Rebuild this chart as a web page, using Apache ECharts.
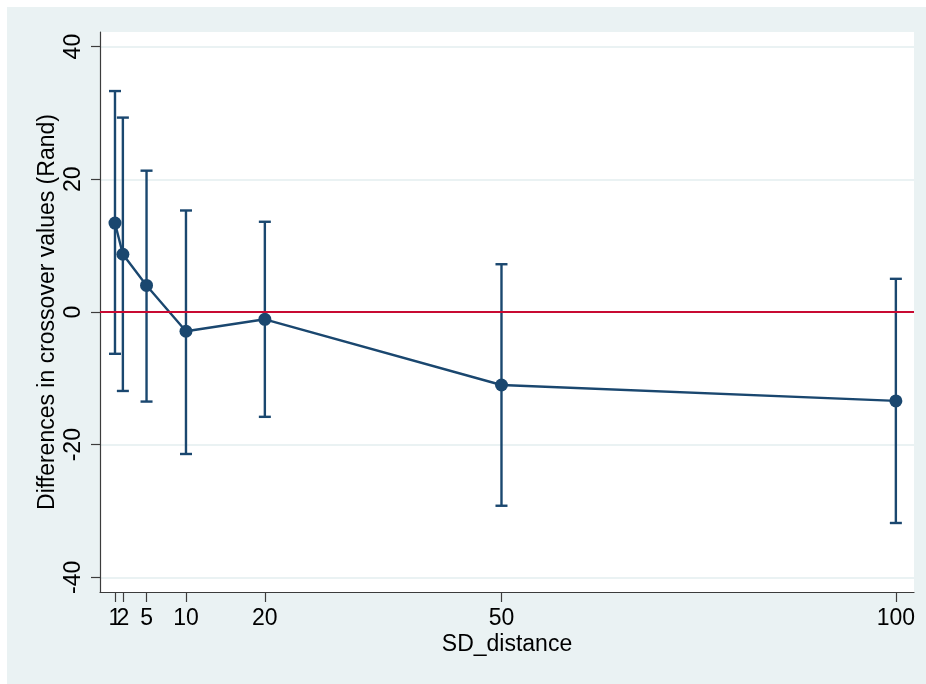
<!DOCTYPE html>
<html>
<head>
<meta charset="utf-8">
<script src="https://cdn.jsdelivr.net/npm/echarts@6/dist/echarts.min.js"></script>
<style>
  html, body { margin: 0; padding: 0; background: #ffffff; }
  #panel { position: absolute; left: 7px; top: 7px; width: 919px; height: 677px; background: #eaf2f3; }
  #chart { position: absolute; left: 0; top: 0; width: 926px; height: 684px; }
</style>
</head>
<body>
<div id="panel"></div>
<div id="chart"></div>
<script>
// SD distance levels and estimated differences with 95% confidence limits
const sdDistance = [1, 2, 5, 10, 20, 50, 100];
const meanDiff   = [13.4, 8.7, 4.0, -2.9, -1.1, -11.0, -13.4];
const ciLower    = [-6.3, -11.9, -13.5, -21.4, -15.8, -29.2, -31.8];
const ciUpper    = [33.3, 29.3, 21.3, 15.3, 13.6, 7.2, 5.0];
const xTicks     = [1, 2, 5, 10, 20, 50, 100];
const yTicks     = [-40, -20, 0, 20, 40];
const refLine    = 0;

const navy = '#1a476f';
const red = '#c80a32';
const gridColor = '#eaf2f3';
const axisColor = '#3c3c3c';
const font = 'Liberation Sans, Arial, Helvetica, sans-serif';
const fs = 23;
const xMin = -0.9, xMax = 102.3;

// ECharts drops one of two labels that collide, so the crowded ticks
// are labelled on two stacked axes sharing the same scale.
const xTicksA = xTicks.filter((v, i) => i % 2 === 0);
const xTicksB = xTicks.filter((v, i) => i % 2 === 1);

const chart = echarts.init(document.getElementById('chart'), null, { renderer: 'canvas' });

const linePoints = sdDistance.map((x, i) => [x, meanDiff[i]]);
const barData = sdDistance.map((x, i) => [x, ciLower[i], ciUpper[i]]);

const labelStyle = { margin: 15, fontFamily: font, fontSize: fs, color: '#000', hideOverlap: false, showMinLabel: true, showMaxLabel: true };

chart.setOption({
  backgroundColor: 'transparent',
  animation: false,
  grid: {
    left: 100, right: 12, top: 32, bottom: 92,
    show: true, backgroundColor: '#ffffff', borderWidth: 0
  },
  xAxis: [
    {
      type: 'value',
      min: xMin, max: xMax,
      name: 'SD_distance',
      nameLocation: 'middle',
      nameGap: 41,
      nameMoveOverlap: false,
      nameTextStyle: { fontFamily: font, fontSize: fs, color: '#000' },
      axisLine: { show: true, onZero: false, lineStyle: { color: axisColor, width: 1.2 } },
      axisTick: { show: true, length: 10, customValues: xTicks, lineStyle: { color: axisColor, width: 1.2 } },
      axisLabel: Object.assign({ customValues: xTicksA }, labelStyle),
      splitLine: { show: false }
    },
    {
      type: 'value',
      position: 'bottom',
      min: xMin, max: xMax,
      axisLine: { show: false, onZero: false },
      axisTick: { show: false },
      axisLabel: Object.assign({ customValues: xTicksB }, labelStyle),
      splitLine: { show: false }
    }
  ],
  yAxis: {
    type: 'value',
    min: -42.2, max: 42.2,
    name: 'Differences in crossover values (Rand)',
    nameLocation: 'middle',
    nameRotate: 90,
    nameGap: 41,
    nameMoveOverlap: false,
    nameTextStyle: { fontFamily: font, fontSize: fs, color: '#000' },
    axisLine: { show: true, onZero: false, lineStyle: { color: axisColor, width: 1.2 } },
    axisTick: { show: true, length: 9, customValues: yTicks, lineStyle: { color: axisColor, width: 1.2 } },
    axisLabel: {
      customValues: yTicks, rotate: 90, margin: 15, fontFamily: font, fontSize: fs, color: '#000',
      showMinLabel: true, showMaxLabel: true
    },
    splitLine: { show: true, lineStyle: { color: gridColor, width: 2 } }
  },
  series: [
    {
      // reference line at zero, drawn beneath the estimates
      type: 'line',
      data: [],
      z: 1,
      silent: true,
      markLine: {
        symbol: 'none',
        silent: true,
        label: { show: false },
        lineStyle: { color: red, width: 2, type: 'solid' },
        data: [{ yAxis: refLine }]
      }
    },
    {
      // confidence intervals with end caps
      type: 'custom',
      z: 3,
      data: barData,
      renderItem: function (params, api) {
        const x = api.value(0);
        const lo = api.coord([x, api.value(1)]);
        const hi = api.coord([x, api.value(2)]);
        const half = 6;
        const style = { stroke: navy, lineWidth: 2.4, fill: null };
        return {
          type: 'group',
          children: [
            { type: 'line', shape: { x1: lo[0], y1: lo[1], x2: hi[0], y2: hi[1] }, style: style },
            { type: 'line', shape: { x1: lo[0] - half, y1: lo[1], x2: lo[0] + half, y2: lo[1] }, style: style },
            { type: 'line', shape: { x1: hi[0] - half, y1: hi[1], x2: hi[0] + half, y2: hi[1] }, style: style }
          ]
        };
      }
    },
    {
      type: 'line',
      z: 4,
      data: linePoints,
      symbol: 'circle',
      symbolSize: 13,
      showSymbol: true,
      lineStyle: { color: navy, width: 2.4 },
      itemStyle: { color: navy }
    }
  ]
});
</script>
</body>
</html>
